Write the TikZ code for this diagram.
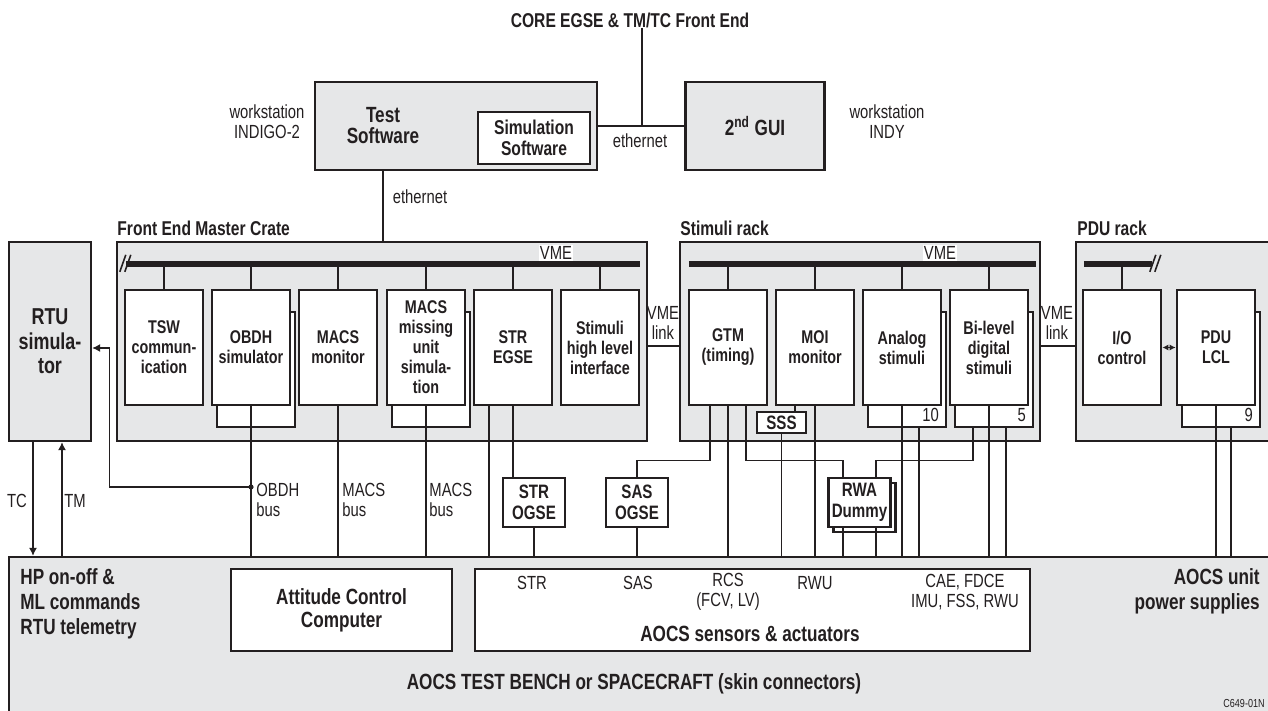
\documentclass[tikz,border=0pt]{standalone}
\usepackage{fontspec}
\setmainfont{Liberation Sans}[FakeStretch=0.78]
\usetikzlibrary{arrows.meta,calc,positioning}
\definecolor{BenchGray}{HTML}{E6E7E8}
\definecolor{BenchInk}{HTML}{231F20}

\begin{document}
\begin{tikzpicture}[
    x=0.5pt,y=-0.5pt,color=BenchInk,
    every node/.style={inner sep=0pt},
    crate/.style={draw,line width=1.2pt,fill=BenchGray},
    module/.style={draw,line width=1.3pt,fill=white,minimum width=39pt,
      minimum height=57.5pt,align=center,
      font=\fontsize{9.2}{10}\selectfont\bfseries},
    ogse/.style={draw,line width=1.3pt,fill=white,minimum width=31pt,
      minimum height=24.5pt,align=center,
      font=\fontsize{9.7}{10.5}\selectfont\bfseries},
    wire/.style={line width=0.6pt},
    bus/.style={line width=3pt},
    lbl/.style={font=\fontsize{9.5}{10}\selectfont,align=center},
    head/.style={font=\fontsize{10}{12.5}\selectfont\bfseries},
    big/.style={font=\fontsize{11}{12.5}\selectfont\bfseries},
    count/.style={font=\fontsize{9.5}{10}\selectfont,anchor=south east},
    tip/.style={-{Latex[length=4pt,width=4pt]}}
  ]
  \path[use as bounding box] (0,0) rectangle (1268,711);
  \clip (0,0) rectangle (1268,711);

  \node[head] (title) at (630,20) {CORE EGSE \& TM/TC Front End};
  \node[crate,minimum width=141pt,minimum height=44pt] (tsbox) at (456,126) {};
  \node[align=center,font=\fontsize{11}{10.5}\selectfont\bfseries]
    (tslabel) at (383,126) {Test\\Software};
  \node[draw,line width=1.1pt,fill=white,minimum width=56pt,minimum height=26pt,
    align=center,font=\fontsize{10}{10.5}\selectfont\bfseries]
    (simsw) at (534,138) {Simulation\\Software};
  \node[crate,minimum width=69.5pt,minimum height=44pt,big] (gui) at (755,126)
    {2\textsuperscript{nd} GUI};
  \node[lbl] at (267,122) {workstation\\INDIGO-2};
  \node[lbl] at (887,122) {workstation\\INDY};
  \node[lbl] (eth1) at (640,141) {ethernet};
  \node[lbl] (eth2) at (420,197) {ethernet};

  \coordinate (tap) at ($(title.south)+(12,0)$);
  \draw[wire] (tsbox.east) -- (gui.west);
  \draw[wire] (tap) -- (tap |- tsbox.east);
  \draw[wire] (tslabel |- tsbox.south) -- (tslabel |- 0,242);

  \node[head,anchor=west] at (117,228) {Front End Master Crate};
  \node[head,anchor=west] at (680,228) {Stimuli rack};
  \node[head,anchor=west] at (1077,228) {PDU rack};

  \node[crate,minimum width=265pt,minimum height=99.5pt] (fem) at (382,341.5) {};
  \node[crate,minimum width=180pt,minimum height=99.5pt] (stim) at (860,341.5) {};
  \node[crate,minimum width=107pt,minimum height=99.5pt] (pdurack) at (1183,341.5) {};
  \node[crate,minimum width=41pt,minimum height=99.5pt,align=center,
    font=\fontsize{11.5}{12.2}\selectfont\bfseries] (rtu) at (50,341.5)
    {RTU\\simula-\\tor};

  \draw[bus] ($(fem.north west)+(10,23)$) coordinate (fembus)
    -- ($(fem.north east)+(-8,23)$);
  \draw[bus] ($(stim.north west)+(10,23)$) coordinate (stimbus)
    -- ($(stim.north east)+(-5,23)$);
  \draw[bus] ($(pdurack.north west)+(9,23)$) coordinate (pdubus) -- ++(68,0);
  \draw[line width=0.8pt] (fembus) ++(-6,8) -- ++(6,-17) (fembus) ++(-1,8) -- ++(6,-17);
  \draw[line width=0.8pt] (pdubus) ++(66,8) -- ++(6,-17) (pdubus) ++(71,8) -- ++(6,-17);
  \node[lbl,fill=white,inner sep=0.6pt] at (556,253) {VME};
  \node[lbl,fill=white,inner sep=0.6pt] at (940,253) {VME};

  \node[module] (tsw) at (164,347.5) {TSW\\commun-\\ication};
  \node[module] (obdhs) at (256,369.5) {};
  \node[module] (obdh) at (251,347.5) {OBDH\\simulator};
  \node[module] (macsm) at (338,347.5) {MACS\\monitor};
  \node[module] (macsus) at (431,369.5) {};
  \node[module] (macsu) at (426,347.5) {MACS\\missing\\unit\\simula-\\tion};
  \node[module] (stregse) at (513,347.5) {STR\\EGSE};
  \node[module] (stimhl) at (600,347.5) {Stimuli\\high level\\interface};

  \node[module] (gtm) at (728,347.5) {GTM\\(timing)};
  \node[module] (moi) at (815,347.5) {MOI\\monitor};
  \node[module] (analogs) at (907,369.5) {};
  \node[module] (analog) at (902,347.5) {Analog\\stimuli};
  \node[module] (bilevels) at (994,369.5) {};
  \node[module] (bilevel) at (989,347.5) {Bi-level\\digital\\stimuli};
  \node[count] at ($(analogs.south east)+(-8,-6)$) {10};
  \node[count] at ($(bilevels.south east)+(-8,-6)$) {5};

  \node[module] (ioctl) at (1122,347.5) {I/O\\control};
  \node[module] (pdus) at (1221,369.5) {};
  \node[module] (pdu) at (1216,347.5) {PDU\\LCL};
  \node[count] at ($(pdus.south east)+(-8,-6)$) {9};

  \node[draw,line width=1.3pt,fill=white,minimum width=24.5pt,minimum height=10.5pt,
    font=\fontsize{9.7}{10}\selectfont\bfseries] (sss) at (781.5,422.5) {SSS};

  \foreach \m in {tsw,obdh,macsm,macsu,stregse,stimhl}
    \draw[wire] (\m.north) -- (\m.north |- fembus);
  \foreach \m in {gtm,moi,analog,bilevel}
    \draw[wire] (\m.north) -- (\m.north |- stimbus);
  \draw[wire] (ioctl.north) -- (ioctl.north |- pdubus);

  \draw[wire] ([yshift=-2.25pt]fem.east) -- ([yshift=-2.25pt]stim.west);
  \draw[wire] ([yshift=-2.25pt]stim.east) -- ([yshift=-2.25pt]pdurack.west);
  \node[lbl] at (663,323) {VME\\link};
  \node[lbl] at (1057,323) {VME\\link};
  \draw[wire,{Latex[length=3pt,width=3pt]}-{Latex[length=3pt,width=3pt]}]
    (ioctl.east) -- (pdu.west);

  \node[crate,minimum width=640.5pt,minimum height=81.5pt] (bench) at (649.5,638.5) {};
  \node[draw,line width=1pt,fill=white,minimum width=110.5pt,minimum height=41pt,
    align=center,font=\fontsize{11}{11.5}\selectfont\bfseries] (acc) at (341.5,610)
    {Attitude Control\\Computer};
  \node[draw,line width=1pt,fill=white,minimum width=277.5pt,minimum height=41pt]
    (sens) at (752.5,610) {};
  \node[lbl] at (532,583) {STR};
  \node[lbl] at (638,583) {SAS};
  \node[lbl] at (728,592) {RCS\\(FCV, LV)};
  \node[lbl] at (815,583) {RWU};
  \node[lbl] at (965,592) {CAE, FDCE\\IMU, FSS, RWU};
  \node[big] at (750,634) {AOCS sensors \& actuators};
  \node[big,anchor=north west,align=left] at (20,568)
    {HP on-off \&\\ML commands\\RTU telemetry};
  \node[big,anchor=north east,align=right] at (1260,568)
    {AOCS unit\\power supplies};
  \node[big] at (634,684) {AOCS TEST BENCH or SPACECRAFT (skin connectors)};
  \node[font=\fontsize{5.8}{6}\selectfont,anchor=south east] at (1265,708) {C649-01N};

  \node[ogse] (strogse) at (534,502.5) {STR\\OGSE};
  \node[ogse] (sasogse) at (637,502.5) {SAS\\OGSE};
  \node[ogse] (rwas) at (864.5,507.5) {};
  \node[ogse] (rwa) at (859.5,502.5) {RWA\\Dummy};

  \coordinate (stra) at ($(stregse.south)+(-24,0)$);
  \coordinate (gtml) at ($(gtm.south)+(-18,0)$);
  \coordinate (gtmr) at ($(gtm.south)+(18,0)$);
  \coordinate (rwal) at ($(rwa.south)+(-16.5,0)$);
  \coordinate (rwar) at ($(rwa.south)+(16.5,0)$);
  \coordinate (an2) at ($(analogs.south)+(12,0)$);
  \coordinate (bl2) at ($(bilevels.south)+(12,0)$);
  \coordinate (pd2) at ($(pdus.south)+(10,0)$);
  \foreach \p in {obdh.south,macsm.south,macsu.south,stra,strogse.south,
      sasogse.south,gtm.south,sss.south,moi.south,rwal,rwar,analog.south,an2,
      bilevel.south,bl2,pdu.south,pd2}
    \draw[wire] (\p) -- (\p |- bench.north);
  \draw[wire] (stregse.south) -- (stregse.south |- strogse.north);
  \draw[wire] (gtml) -- ++(0,54) -| (sasogse.north);
  \draw[wire] (gtmr) -- ++(0,54) -| ($(rwa.north)+(-16.5,0)$);
  \draw[wire] ($(bilevels.south)+(-21,0)$) -- ++(0,32) -| ($(rwa.north)+(16.5,0)$);
  \draw[wire] ($(sss.north)+(13.5,0)$) -- ($(moi.south)+(-20,0)$);

  \coordinate (obdhtap) at (obdh.south |- 0,487);
  \draw[wire,tip] (obdhtap) -| ($(rtu.east)+(17,6.5)$) -- ($(rtu.east)+(0,6.5)$);
  \fill (obdhtap) circle (1.3pt);
  \coordinate (tc) at ($(rtu.south)+(-17,0)$);
  \coordinate (tm) at ($(rtu.south)+(12,0)$);
  \draw[wire,tip] (tc) -- (tc |- bench.north);
  \draw[wire,tip] (tm |- bench.north) -- (tm);
  \node[lbl] at (17,501) {TC};
  \node[lbl] at (75,501) {TM};
  \node[lbl,anchor=west,align=left] at (256,500) {OBDH\\bus};
  \node[lbl,anchor=west,align=left] at (342,500) {MACS\\bus};
  \node[lbl,anchor=west,align=left] at (429,500) {MACS\\bus};
\end{tikzpicture}
\end{document}
